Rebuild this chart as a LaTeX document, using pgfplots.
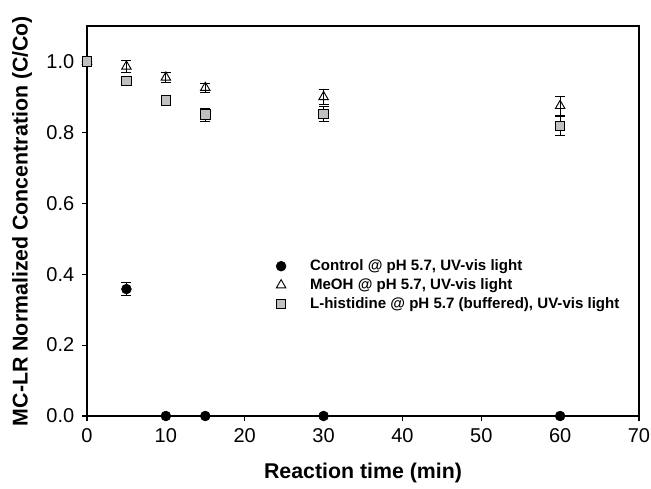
\documentclass[border=0pt]{standalone}
\usepackage{fontspec}
\setmainfont{Liberation Sans}
\usepackage{pgfplots}
\pgfplotsset{compat=1.18}
\definecolor{sqgray}{HTML}{C0C0C0}

\begin{document}
\begin{tikzpicture}
\begin{axis}[
    name=main,
    scale only axis,
    width=414pt, height=292.5pt,
    xmin=0, xmax=70, ymin=0, ymax=1.1,
    xtick={0,10,...,70},
    ytick={0,0.2,...,1.0},
    yticklabel style={xshift=-2pt, /pgf/number format/.cd, fixed, fixed zerofill, precision=1},
    /pgf/number format/assume math mode=true,
    tick align=outside,
    tick pos=left,
    major tick length=4pt,
    tick style={black, line width=0.8pt},
    axis line style={line width=0.9pt},
    ticklabel style={font=\fontsize{15}{17}\selectfont},
    xticklabel style={yshift=-2pt},
    xlabel={\bfseries Reaction time (min)},
    ylabel={\bfseries MC-LR Normalized Concentration (C/Co)},
    label style={font=\fontsize{16}{18}\selectfont},
    xlabel style={yshift=-8pt},
    ylabel style={yshift=4pt},
    legend style={at={(0.335,0.415)}, anchor=north west, draw=none, fill=none,
        font=\fontsize{11.3}{13}\selectfont\bfseries, row sep=0.5pt,
        /tikz/every odd column/.append style={column sep=16pt}},
    legend cell align=left,
    error bars/error bar style={black, line width=0.7pt},
    error bars/error mark options={rotate=90, mark size=3.8pt, line width=0.7pt, black},
]
% Control
\addplot+[only marks, mark=*, mark size=3.7pt, black, mark options={fill=black},
    error bars/.cd, y dir=both, y explicit] coordinates {
    (0,1.0) +- (0,0)
    (5,0.358) +- (0,0.018)
    (10,0.0) +- (0,0)
    (15,0.0) +- (0,0)
    (30,0.0) +- (0,0)
    (60,0.0) +- (0,0)
};
% MeOH
\addplot+[only marks, mark=triangle, mark size=4.1pt, black, mark options={fill=white, line width=0.7pt},
    error bars/.cd, y dir=both, y explicit] coordinates {
    (0,1.0) +- (0,0)
    (5,0.986) +- (0,0.018)
    (10,0.955) +- (0,0.015)
    (15,0.926) +- (0,0.013)
    (30,0.900) +- (0,0.022)
    (60,0.875) +- (0,0.027)
};
% L-histidine
\addplot+[only marks, mark=square*, mark size=3.6pt, black, mark options={fill=sqgray, line width=0.7pt},
    error bars/.cd, y dir=both, y explicit] coordinates {
    (0,1.0) +- (0,0)
    (5,0.945) +- (0,0.005)
    (10,0.890) +- (0,0.005)
    (15,0.850) +- (0,0.018)
    (30,0.852) +- (0,0.020)
    (60,0.818) +- (0,0.028)
};
\legend{Control @ pH 5.7{,} UV-vis light,
        MeOH @ pH 5.7{,} UV-vis light,
        L-histidine @ pH 5.7 (buffered){,} UV-vis light}
\end{axis}
\pgfresetboundingbox
\path[use as bounding box] ([xshift=-65.25pt,yshift=-54pt]main.south west)
    rectangle ([xshift=9pt,yshift=19.5pt]main.north east);
\end{tikzpicture}
\end{document}
